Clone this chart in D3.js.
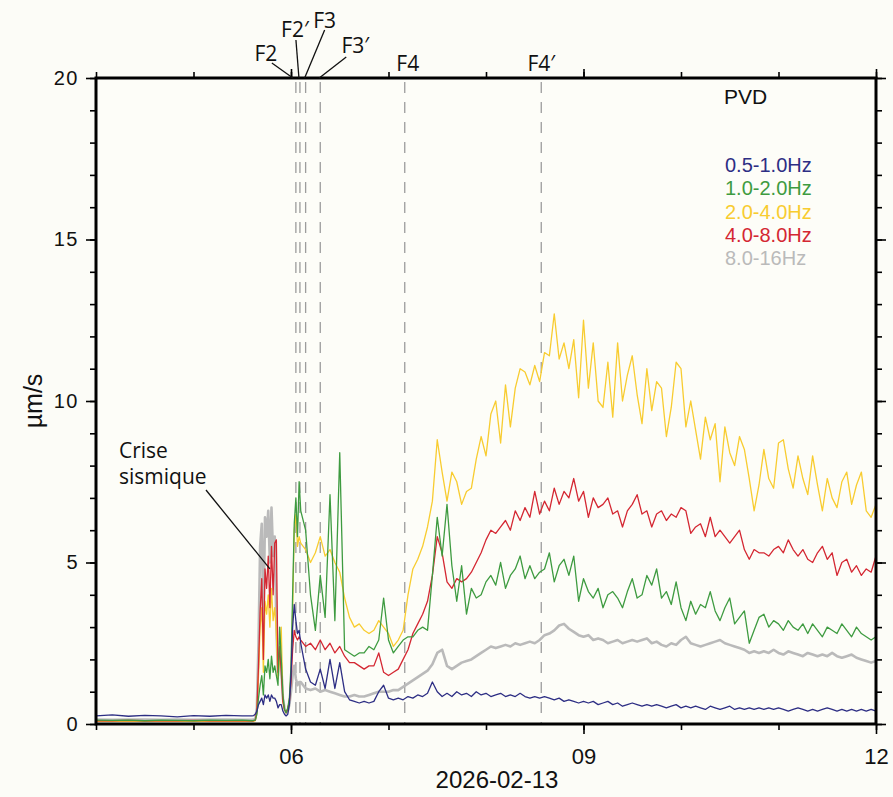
<!DOCTYPE html>
<html>
<head>
<meta charset="utf-8">
<script src="https://cdn.jsdelivr.net/npm/d3@7"></script>
<style>
    body { margin: 0; background: #fcfcf7; }
    svg { display: block; font-family: "Liberation Sans", Arial, sans-serif; }
</style>
</head>
<body>
<div id="chart"></div>
<script>
// frequency bands (legend order)
var bands = ["0.5-1.0Hz", "1.0-2.0Hz", "2.0-4.0Hz", "4.0-8.0Hz", "8.0-16Hz"];
var bandColors = ["#2d2e84", "#3e9b40", "#f8cc30", "#d42732", "#bababa"];

// sample times, minutes after 04:00 (2026-02-13)
var minutesQuiet = d3.range(0, 91, 10);     // 04:00 - 05:30
var minutesCrisis = d3.range(96, 126, 1);   // 05:36 - 06:05
var minutesAfter = d3.range(126, 481, 3);   // 06:06 - 12:00

// PVD velocity, um/s
var v05_10 = [
    0.25,0.28,0.24,0.27,0.25,0.22,0.26,0.24,0.27,0.25,
    0.25,0.26,0.3,0.4,0.6,0.7,0.8,0.6,0.9,0.8,0.9,0.7,0.9,0.8,0.8,0.7,0.5,0.6,0.6,0.4,0.3,
    0.25,0.3,0.6,1.5,3.0,3.7,3.2,2.8,2.9,
    2.5,1.7,1.3,1.2,1.7,1.1,2.0,1.1,1.9,1.0,
    0.75,0.7,0.65,0.7,0.65,0.7,1.0,1.2,0.8,0.75,
    0.8,0.75,0.85,0.8,0.9,0.85,0.95,1.3,1.0,0.85,
    0.95,0.85,1.0,0.9,0.95,0.85,1.0,0.9,0.95,0.85,
    0.9,0.95,0.85,0.9,0.85,0.95,0.85,0.8,0.85,0.8,
    0.85,0.8,0.75,0.8,0.7,0.75,0.7,0.65,0.7,0.65,
    0.7,0.6,0.65,0.7,0.6,0.65,0.55,0.6,0.65,0.6,
    0.55,0.6,0.55,0.6,0.55,0.5,0.55,0.6,0.5,0.55,
    0.5,0.55,0.5,0.45,0.55,0.5,0.45,0.5,0.55,0.45,
    0.5,0.45,0.5,0.45,0.5,0.45,0.5,0.45,0.5,0.45,
    0.4,0.45,0.5,0.45,0.4,0.45,0.4,0.45,0.5,0.45,
    0.4,0.45,0.4,0.45,0.4,0.45,0.4,0.45,0.4
];
var v10_20 = [
    0.12,0.11,0.12,0.1,0.12,0.11,0.1,0.12,0.11,0.12,
    0.1,0.11,0.12,0.3,0.8,1.2,1.5,0.9,1.8,1.6,2.0,1.4,2.1,1.6,1.8,1.5,1.2,3.0,2.0,0.9,0.45,
    0.35,0.5,0.8,1.8,4.0,6.2,7.0,5.8,7.5,
    6.6,6.0,4.0,2.9,4.6,3.3,7.1,3.2,8.4,2.3,
    2.2,2.1,2.2,2.2,2.4,2.3,2.6,3.9,2.6,2.2,
    2.4,2.6,2.7,2.7,2.9,3.0,2.9,4.6,6.4,5.2,
    6.8,4.9,3.8,4.9,3.4,4.2,3.9,4.0,4.4,4.6,
    4.3,5.0,4.2,4.6,4.8,5.2,4.5,4.9,4.5,4.7,
    4.8,5.3,4.4,4.9,5.1,4.6,5.2,3.8,4.5,4.1,
    3.9,4.2,3.6,4.0,4.1,3.9,3.6,4.1,4.5,3.9,
    4.0,4.6,4.3,4.8,3.9,4.1,3.7,4.4,3.6,3.2,
    3.8,3.4,3.7,3.6,4.1,3.5,3.2,3.6,3.9,3.1,
    3.3,3.5,2.5,2.9,3.3,3.4,3.0,3.2,3.1,2.9,
    3.2,3.0,2.9,3.1,2.8,3.1,2.9,2.7,3.0,2.9,
    2.8,3.1,2.9,2.7,3.0,2.8,2.7,2.6,2.7
];
var v20_40 = [
    0.08,0.08,0.09,0.08,0.08,0.09,0.08,0.08,0.09,0.08,
    0.08,0.08,0.1,0.4,1.5,3.0,3.6,1.6,3.8,3.4,4.0,3.0,4.2,3.2,3.6,2.8,1.4,2.0,3.0,0.7,0.45,
    0.35,0.45,0.7,1.5,3.5,6.0,6.5,5.5,5.8,
    5.6,5.4,5.0,5.3,5.8,5.2,5.4,5.0,4.7,3.9,
    3.3,3.0,3.1,2.9,2.8,2.9,3.2,3.0,2.8,2.4,
    2.6,2.9,4.0,4.8,5.1,5.5,6.1,6.9,8.8,7.8,
    6.9,7.8,7.5,6.8,7.2,7.3,8.2,8.9,8.3,9.6,
    10.0,8.7,10.5,9.2,10.4,11.0,10.9,10.5,11.1,10.6,
    11.5,11.4,12.7,11.3,11.8,11.0,11.9,10.1,12.5,10.4,
    11.8,10.0,9.8,11.2,9.5,11.8,10.0,10.8,11.4,10.2,
    9.3,11.0,9.7,10.6,10.4,8.9,9.8,11.2,11.0,9.2,
    10.0,9.1,8.2,9.5,8.8,9.3,7.5,9.2,8.4,8.0,
    8.9,8.5,7.6,6.6,7.4,8.5,7.6,7.3,8.7,8.8,
    7.9,7.3,8.3,7.6,7.1,8.3,7.4,6.6,7.6,7.0,
    6.7,7.5,7.8,6.8,7.4,7.8,6.6,6.4,6.8
];
var v40_80 = [
    0.1,0.1,0.11,0.1,0.1,0.1,0.11,0.1,0.1,0.1,
    0.1,0.1,0.12,0.4,1.8,3.5,4.5,2.0,4.8,4.2,5.2,3.6,5.5,4.0,5.6,5.7,1.6,2.4,1.6,0.7,0.45,
    0.35,0.45,0.7,1.3,2.3,2.9,2.7,2.6,2.7,
    2.6,2.4,2.5,2.3,2.6,2.3,2.5,2.2,2.4,2.1,
    1.9,1.9,1.8,1.7,1.8,1.8,2.2,1.6,1.5,1.6,
    1.7,2.0,2.3,2.8,3.1,3.4,3.8,4.6,5.8,5.3,
    4.4,4.2,4.5,4.4,4.5,4.7,5.0,5.3,5.7,6.0,
    5.9,6.1,6.3,6.0,6.6,6.3,6.7,6.4,7.2,6.5,
    6.9,6.6,7.3,6.8,7.2,7.0,7.6,6.9,7.2,6.4,
    7.0,6.7,6.8,7.0,6.5,6.6,6.1,6.6,6.8,7.1,
    6.5,6.6,6.1,6.5,6.6,6.3,6.5,6.4,6.7,6.6,
    5.9,6.1,6.2,5.8,6.4,5.8,6.0,5.8,5.6,5.8,
    6.0,5.4,5.1,5.4,5.3,5.3,5.2,5.4,5.5,5.3,
    5.7,5.4,5.2,5.4,5.1,5.0,5.3,5.5,5.1,5.3,
    4.6,5.0,5.1,4.7,4.9,4.6,4.8,4.7,5.2
];
var v80_16 = [
    0.14,0.13,0.14,0.14,0.13,0.14,0.13,0.14,0.14,0.13,
    0.13,0.14,0.15,0.5,2.5,5.5,6.2,3.0,6.4,5.8,6.6,5.0,6.7,5.2,5.8,3.0,1.5,2.2,1.8,0.8,0.5,
    0.35,0.4,0.6,1.0,1.5,1.8,1.4,1.2,1.3,
    1.3,1.1,1.05,1.1,1.0,1.05,1.0,0.95,0.9,0.85,
    0.85,0.9,0.85,0.85,0.9,0.95,1.0,1.0,1.0,1.05,
    1.05,1.15,1.25,1.35,1.45,1.55,1.65,1.85,2.2,2.3,
    1.8,1.7,1.8,1.9,1.95,2.0,2.1,2.2,2.3,2.4,
    2.35,2.4,2.45,2.4,2.5,2.45,2.5,2.55,2.5,2.6,
    2.75,2.8,2.9,3.05,3.1,2.95,2.85,2.75,2.7,2.75,
    2.6,2.65,2.6,2.5,2.55,2.6,2.5,2.55,2.6,2.55,
    2.6,2.65,2.5,2.55,2.45,2.4,2.5,2.45,2.6,2.7,
    2.5,2.45,2.4,2.45,2.5,2.55,2.6,2.5,2.45,2.4,
    2.35,2.3,2.2,2.25,2.2,2.25,2.2,2.3,2.2,2.15,
    2.25,2.2,2.15,2.1,2.2,2.15,2.1,2.15,2.1,2.2,
    2.1,2.05,2.1,2.15,2.05,2.0,1.95,1.9,1.95
];
var bandValues = [v05_10, v10_20, v20_40, v40_80, v80_16];

// fissure events, minutes after 04:00
var eventNames = ["F2", "F2\u2032", "F3", "F3\u2032", "F4", "F4\u2032"];
var eventMinutes = [123, 125.5, 129, 138, 190, 274];

var yTicks = [0, 5, 10, 15, 20];

function render_chart() {
    var W = 893, H = 797;
    var margin = {top: 78, right: 17, bottom: 73, left: 96};
    var w = W - margin.left - margin.right;
    var h = H - margin.top - margin.bottom;

    var t0 = Date.UTC(2026, 1, 13, 4, 0);
    var toDate = function (m) { return new Date(t0 + m * 60000); };
    var minutes = minutesQuiet.concat(minutesCrisis, minutesAfter);

    var x = d3.scaleUtc()
        .domain([toDate(0), toDate(480)])
        .range([0, w]);
    var y = d3.scaleLinear()
        .domain([0, 20])
        .range([h, 0]);

    var svg = d3.select("#chart")
        .append("svg")
        .attr("width", W)
        .attr("height", H);

    var g = svg.append("g")
        .attr("transform", "translate(" + margin.left + "," + margin.top + ")");

    g.append("rect")
        .attr("width", w)
        .attr("height", h)
        .attr("fill", "#fdfdf8");

    // dashed event lines
    g.selectAll(".event")
        .data(eventMinutes)
        .enter().append("line")
        .attr("x1", function (d) { return x(toDate(d)); })
        .attr("x2", function (d) { return x(toDate(d)); })
        .attr("y1", 4)
        .attr("y2", h)
        .attr("stroke", "#9c9c9c")
        .attr("stroke-width", 1.3)
        .attr("stroke-dasharray", "11,9");

    // series, drawn grey first, blue on top
    var line = d3.line()
        .x(function (d) { return x(d.time); })
        .y(function (d) { return y(d.v); });

    var drawOrder = [4, 2, 3, 1, 0];
    drawOrder.forEach(function (i) {
        var pts = minutes.map(function (m, j) { return {time: toDate(m), v: bandValues[i][j]}; });
        g.append("path")
            .datum(pts)
            .attr("fill", "none")
            .attr("stroke", bandColors[i])
            .attr("stroke-width", i === 4 ? 2.6 : 1.3)
            .attr("stroke-linejoin", "round")
            .attr("d", line);
    });

    // axes
    var hours = d3.utcHour.range(toDate(0), toDate(481));
    var majorHours = [toDate(120), toDate(300), toDate(480)];
    var units = d3.range(0, 21);

    function style_axis(sel) {
        sel.select(".domain").remove();
        sel.selectAll("line").attr("stroke", "#000").attr("stroke-width", 1.6);
        sel.selectAll("text").attr("fill", "#111");
    }

    g.append("g").attr("transform", "translate(0," + h + ")")
        .call(d3.axisBottom(x).tickValues(hours).tickSize(6).tickFormat(""))
        .call(style_axis);
    g.append("g").attr("transform", "translate(0," + h + ")")
        .call(d3.axisBottom(x).tickValues(majorHours).tickSize(10).tickPadding(14)
            .tickFormat(d3.utcFormat("%H")))
        .call(style_axis)
        .selectAll("text").style("font-size", "22px");

    g.append("g")
        .call(d3.axisTop(x).tickValues(hours).tickSize(6).tickFormat(""))
        .call(style_axis);
    g.append("g")
        .call(d3.axisTop(x).tickValues(majorHours).tickSize(9).tickFormat(""))
        .call(style_axis);

    g.append("g")
        .call(d3.axisLeft(y).tickValues(units).tickSize(6).tickFormat(""))
        .call(style_axis);
    g.append("g")
        .call(d3.axisLeft(y).tickValues(yTicks).tickSize(10).tickPadding(7))
        .call(style_axis)
        .selectAll("text")
        .style("font-size", "20px")
        .style("letter-spacing", "1.5px");

    g.append("g").attr("transform", "translate(" + w + ",0)")
        .call(d3.axisRight(y).tickValues(units).tickSize(6).tickFormat(""))
        .call(style_axis);
    g.append("g").attr("transform", "translate(" + w + ",0)")
        .call(d3.axisRight(y).tickValues(yTicks).tickSize(10).tickFormat(""))
        .call(style_axis);

    // frame
    g.append("rect")
        .attr("width", w)
        .attr("height", h)
        .attr("fill", "none")
        .attr("stroke", "#000")
        .attr("stroke-width", 3);

    // axis titles
    svg.append("text")
        .attr("x", 497)
        .attr("y", 788)
        .attr("text-anchor", "middle")
        .style("font-size", "24px")
        .attr("fill", "#111")
        .text("2026-02-13");

    svg.append("text")
        .attr("transform", "translate(42," + (margin.top + h / 2) + ") rotate(-90)")
        .attr("text-anchor", "middle")
        .style("font-size", "25px")
        .attr("fill", "#111")
        .text("\u00b5m/s");

    // legend
    g.append("text")
        .attr("x", 628)
        .attr("y", 26)
        .style("font-size", "21px")
        .attr("fill", "#111")
        .text("PVD");
    g.selectAll(".legend")
        .data(bands)
        .enter().append("text")
        .attr("x", 629)
        .attr("y", function (d, i) { return 94 + i * 23.3; })
        .style("font-size", "20px")
        .attr("fill", function (d, i) { return bandColors[i]; })
        .text(function (d) { return d; });

    // event labels above the frame: [label dx, label baseline y, leader start dx, leader start y]
    var eventLabelPos = [
        [-30, -17, -24, -15],
        [-5, -41, -4, -38],
        [19, -50, 19, -48],
        [35, -25, 26, -21],
        [3, -7, null, null],
        [0, -7, null, null]
    ];
    var fg = g.append("g").style("font-family", "'Open Sans', sans-serif");
    eventMinutes.forEach(function (m, i) {
        var ex = x(toDate(m));
        var p = eventLabelPos[i];
        fg.append("text")
            .attr("x", ex + p[0])
            .attr("y", p[1])
            .attr("text-anchor", "middle")
            .style("font-size", "21px")
            .attr("fill", "#111")
            .text(eventNames[i]);
        if (p[2] !== null) {
            fg.append("line")
                .attr("x1", ex + p[2])
                .attr("y1", p[3])
                .attr("x2", ex - 3 + (i === 0 ? 0 : 2))
                .attr("y2", 0)
                .attr("stroke", "#111")
                .attr("stroke-width", 1.3);
        }
    });

    // crise sismique annotation
    fg.append("text")
        .attr("x", 23).attr("y", 380)
        .style("font-size", "21px")
        .attr("fill", "#111")
        .text("Crise");
    fg.append("text")
        .attr("x", 23).attr("y", 406)
        .style("font-size", "21px")
        .attr("fill", "#111")
        .text("sismique");
    fg.append("line")
        .attr("x1", 110)
        .attr("y1", 412)
        .attr("x2", x(toDate(107)))
        .attr("y2", y(4.8))
        .attr("stroke", "#111")
        .attr("stroke-width", 1.3);
}

render_chart();
</script>
</body>
</html>
